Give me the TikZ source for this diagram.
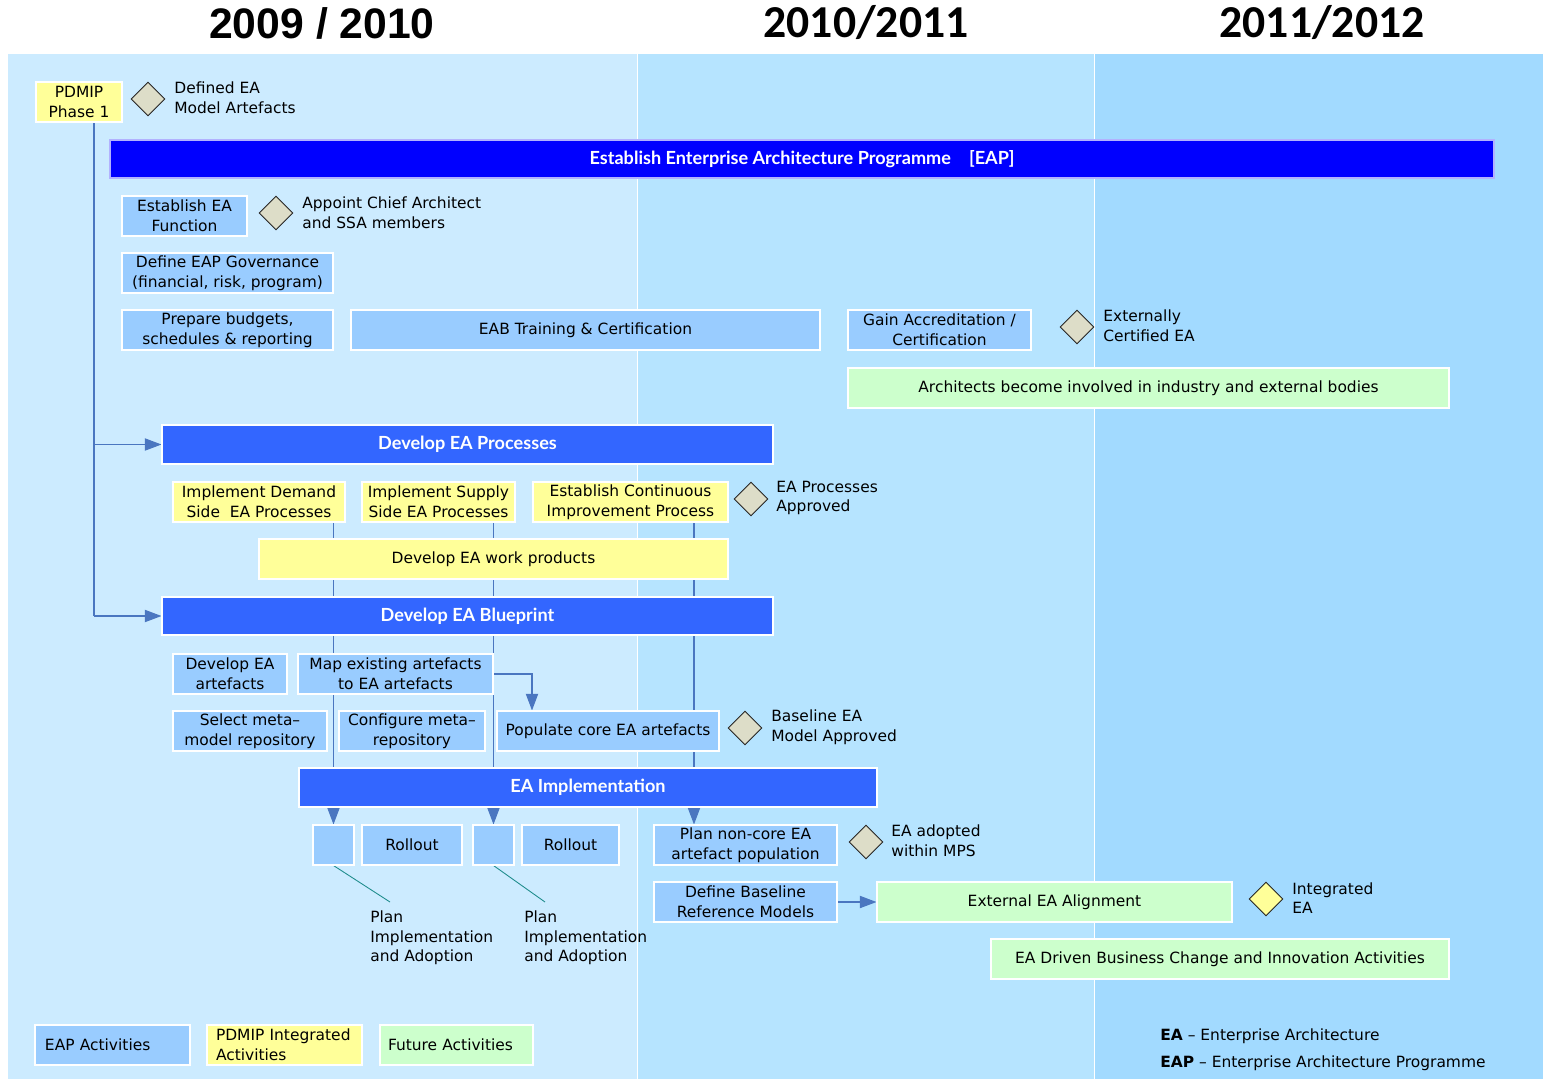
\documentclass[tikz,border=0pt]{standalone}
\usepackage{fontspec}
\setmainfont{DejaVu Sans}
\newfontfamily\barfam{Lato}
\newfontfamily\yrA{Liberation Sans}
\newfontfamily\yrB{Carlito}
\usetikzlibrary{shapes.geometric,arrows.meta,calc}
\pgfdeclarelayer{bg}
\pgfdeclarelayer{edges}
\pgfsetlayers{bg,edges,main}

\definecolor{paneA}{RGB}{204,235,255}
\definecolor{paneB}{RGB}{182,228,255}
\definecolor{paneC}{RGB}{162,218,255}
\definecolor{eapblue}{RGB}{0,0,255}
\definecolor{midblue}{RGB}{51,102,255}
\definecolor{ltblue}{RGB}{153,204,255}
\definecolor{pyellow}{RGB}{255,255,153}
\definecolor{fgreen}{RGB}{204,255,204}
\definecolor{msfill}{RGB}{221,221,200}
\definecolor{connc}{RGB}{74,118,192}
\definecolor{tealc}{RGB}{30,140,140}

\newcommand\bodyfont{\fontsize{8.8}{11.2}\selectfont}
% box from corner (x1,y1) to (x2,y2) in pixel units: name, style, x1, y1, x2, y2, text
\newcommand\bx[7]{\node[#2, minimum width={(#5-#3)*0.02cm}, minimum height={(#6-#4)*0.02cm}] (#1) at ({(#3+#5)/2},{(#4+#6)/2}) {#7};}

\begin{document}
\begin{tikzpicture}[x=0.02cm,y=-0.02cm,
  box/.style={draw=white, line width=0.6pt, inner sep=0pt, align=center, font=\bodyfont, text=black},
  eapact/.style={box, fill=ltblue},
  pdmact/.style={box, fill=pyellow},
  futact/.style={box, fill=fgreen},
  bar/.style={box, fill=midblue, text=white, font=\barfam\bfseries\fontsize{10.3}{12}\selectfont},
  mstone/.style={diamond, aspect=1, draw=black!85, line width=0.5pt, fill=msfill, minimum size=0.68cm, inner sep=0pt},
  lbl/.style={anchor=west, align=left, font=\bodyfont, inner sep=0pt},
  conn/.style={draw=connc, line width=0.6pt},
  arr/.style={conn, -{Triangle[length=9.5pt,width=7pt]}},
  pointer/.style={draw=tealc, line width=0.5pt},
  year/.style={inner sep=0pt, text=black}
]
\useasboundingbox (0,0) rectangle (1543,1079);

% year columns
\begin{pgfonlayer}{bg}
  \fill[white] (0,0) rectangle (1543,1079);
  \fill[paneA] (8,54) rectangle (637,1079);
  \fill[paneB] (637,54) rectangle (1095,1079);
  \fill[paneC] (1095,54) rectangle (1543,1079);
  \draw[white, line width=1.1pt] (637.5,54) -- (637.5,1079) (1094.5,54) -- (1094.5,1079);
\end{pgfonlayer}

\node[year, font=\yrA\bfseries\fontsize{24.3}{28}\selectfont] (y1) at (322,23) {2009 / 2010};
\node[year, font=\yrB\bfseries\fontsize{26}{30}\selectfont] (y2) at (866,23) {2010/2011};
\node[year, font=\yrB\bfseries\fontsize{26}{30}\selectfont] (y3) at (1322,23) {2011/2012};

% programme start
\bx{pdmip}{pdmact}{36}{82}{122}{122}{PDMIP\\Phase 1}
\node[mstone] (m1) at (148,99) {};
\node[lbl] (m1l) at (174,98) {Defined EA\\Model Artefacts};

\bx{eap}{bar, fill=eapblue, draw=white!70!eapblue}{110}{140}{1494}{178}{Establish Enterprise Architecture Programme\quad[EAP]}

\bx{func}{eapact}{122}{196}{247}{236}{Establish EA\\Function}
\node[mstone] (m2) at (276,213) {};
\node[lbl] (m2l) at (302,213) {Appoint Chief Architect\\and SSA members};

\bx{gov}{eapact}{122}{253}{333}{293}{Define EAP Governance\\(financial, risk, program)}
\bx{budg}{eapact}{122}{310}{333}{350}{Prepare budgets,\\schedules \& reporting}
\bx{train}{eapact}{351}{310}{820}{350}{EAB Training \& Certification}
\bx{accr}{eapact}{848}{310}{1031}{350}{Gain Accreditation /\\Certification}
\node[mstone] (m3) at (1077,327) {};
\node[lbl] (m3l) at (1103,326) {Externally\\Certified EA};
\bx{arch}{futact}{848}{368}{1449}{408}{Architects become involved in industry and external bodies}

% processes
\bx{proc}{bar}{162}{425}{773}{464}{Develop EA Processes}
\bx{dem}{pdmact}{173}{482}{345}{522}{Implement Demand\\Side\ \ EA Processes}
\bx{sup}{pdmact}{362}{482}{515}{522}{Implement Supply\\Side EA Processes}
\bx{cip}{pdmact}{533}{482}{728}{522}{Establish Continuous\\Improvement Process}
\node[mstone] (m4) at (751,499) {};
\node[lbl] (m4l) at (776,498) {EA Processes\\Approved};
\bx{work}{pdmact}{259}{539}{728}{579}{Develop EA work products}

% blueprint
\bx{bp}{bar}{162}{597}{773}{635}{Develop EA Blueprint}
\bx{art}{eapact}{173}{654}{287}{694}{Develop EA\\artefacts}
\bx{map}{eapact}{298}{654}{493}{694}{Map existing artefacts\\to EA artefacts}
\bx{sel}{eapact}{173}{711}{327}{751}{Select meta–\\model repository}
\bx{cfg}{eapact}{339}{711}{485}{751}{Configure meta–\\repository}
\bx{pop}{eapact}{497}{711}{719}{751}{Populate core EA artefacts}
\node[mstone] (m5) at (745,728) {};
\node[lbl] (m5l) at (771,727) {Baseline EA\\Model Approved};

% implementation
\bx{impl}{bar}{299}{768}{877}{807}{EA Implementation}
\bx{sb1}{eapact}{313}{825}{354}{865}{}
\bx{ro1}{eapact}{362}{825}{462}{865}{Rollout}
\bx{sb2}{eapact}{473}{825}{514}{865}{}
\bx{ro2}{eapact}{522}{825}{619}{865}{Rollout}
\bx{pnc}{eapact}{654}{825}{837}{865}{Plan non-core EA\\artefact population}
\node[mstone] (m6) at (866,842) {};
\node[lbl] (m6l) at (891,841) {EA adopted\\within MPS};
\bx{ref}{eapact}{654}{882}{837}{922}{Define Baseline\\Reference Models}
\bx{ext}{futact}{877}{882}{1232}{922}{External EA Alignment}
\node[mstone, fill=pyellow] (m7) at (1266,899) {};
\node[lbl] (m7l) at (1292,898) {Integrated\\EA};
\bx{chg}{futact}{991}{939}{1449}{979}{EA Driven Business Change and Innovation Activities}

\node[lbl] (pl1) at (370,938) {Plan\\Implementation\\and Adoption};
\node[lbl] (pl2) at (524,938) {Plan\\Implementation\\and Adoption};
\coordinate (pa1) at (390,902);
\coordinate (pa2) at (545,902);

% legend and abbreviations
\bx{leg1}{eapact, align=left, text width={(190-35-20)*0.02cm}}{35}{1025}{190}{1065}{EAP Activities}
\bx{leg2}{pdmact, align=left, text width={(362-207-18)*0.02cm}}{207}{1025}{362}{1065}{PDMIP Integrated\\Activities}
\bx{leg3}{futact, align=left, text width={(533-380-16)*0.02cm}}{380}{1025}{533}{1065}{Future Activities}
\node[lbl] (ab1) at (1160,1036) {\textbf{EA} – Enterprise Architecture};
\node[lbl] (ab2) at (1160,1063) {\textbf{EAP} – Enterprise Architecture Programme};

% connectors
\coordinate (spine) at (94,0);
\coordinate (c694) at (694,0);
\coordinate (c532) at (532,0);
\begin{pgfonlayer}{edges}
  \draw[conn] (spine |- pdmip.south) -- (spine |- bp.west);
  \draw[arr] (spine |- proc.west) -- (proc.west);
  \draw[arr] (spine |- bp.west) -- (bp.west);
  \draw[arr] (sb1.north |- dem.south) -- (sb1.north);
  \draw[arr] (sb2.north |- sup.south) -- (sb2.north);
  \draw[arr] (c694 |- cip.south) -- (c694 |- pnc.north);
  \draw[arr] (map.east) -| (c532 |- pop.north);
  \draw[arr] (ref.east) -- (ext.west);
  \draw[pointer] (sb1.south) -- (pa1);
  \draw[pointer] (sb2.south) -- (pa2);
\end{pgfonlayer}
\end{tikzpicture}
\end{document}
